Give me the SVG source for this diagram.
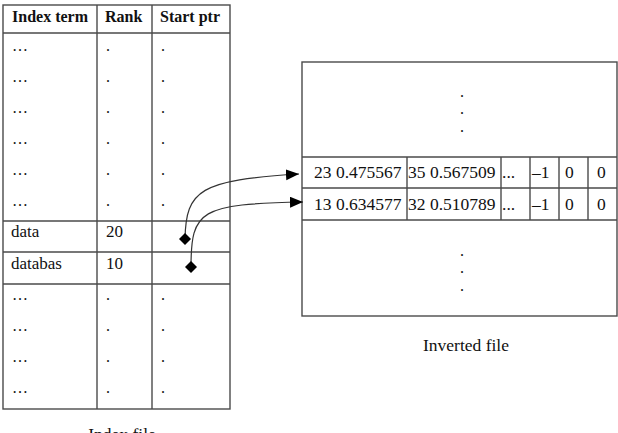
<svg xmlns="http://www.w3.org/2000/svg" width="618" height="433" viewBox="0 0 618 433">
<defs>
<style>
.ln{stroke:#4a4a4a;stroke-width:1.4;fill:none}
.t{font-family:"Liberation Serif","Times New Roman",serif;fill:#111}
.h{font-size:16px;font-weight:bold}
.r{font-size:16px}
.d{font-size:17px}
.i{font-size:17.5px}
.cap{font-size:17.5px}
.con{stroke:#333;stroke-width:1.2;fill:none}
</style>
<marker id="ah" markerUnits="userSpaceOnUse" markerWidth="14" markerHeight="12" refX="13" refY="5.5" orient="auto" viewBox="0 0 14 12">
<path d="M0,0 L13,5.5 L0,11 Z" fill="#000"/>
</marker>
</defs>
<rect width="618" height="433" fill="#fff"/>
<g id="index-file">
<rect class="ln" x="3" y="5" width="227" height="404"/>
<line class="ln" x1="3" y1="33" x2="230" y2="33"/>
<line class="ln" x1="97" y1="5" x2="97" y2="409"/>
<line class="ln" x1="152" y1="5" x2="152" y2="409"/>
<line class="ln" x1="3" y1="221" x2="230" y2="221"/>
<line class="ln" x1="3" y1="252" x2="230" y2="252"/>
<line class="ln" x1="3" y1="284" x2="230" y2="284"/>
<text class="t h" x="12" y="22">Index term</text>
<text class="t h" x="105" y="22">Rank</text>
<text class="t h" x="160" y="22">Start ptr</text>
<g class="t r">
<text x="12" y="51">…</text><text x="106" y="51">.</text><text x="161" y="51">.</text>
<text x="12" y="82">…</text><text x="106" y="82">.</text><text x="161" y="82">.</text>
<text x="12" y="113">…</text><text x="106" y="113">.</text><text x="161" y="113">.</text>
<text x="12" y="144">…</text><text x="106" y="144">.</text><text x="161" y="144">.</text>
<text x="12" y="175">…</text><text x="106" y="175">.</text><text x="161" y="175">.</text>
<text x="12" y="206">…</text><text x="106" y="206">.</text><text x="161" y="206">.</text>
<text x="12" y="300">…</text><text x="106" y="300">.</text><text x="161" y="300">.</text>
<text x="12" y="331">…</text><text x="106" y="331">.</text><text x="161" y="331">.</text>
<text x="12" y="362">…</text><text x="106" y="362">.</text><text x="161" y="362">.</text>
<text x="12" y="393">…</text><text x="106" y="393">.</text><text x="161" y="393">.</text>
</g>
<text class="t d" x="11" y="237">data</text>
<text class="t d" x="106" y="237">20</text>
<text class="t d" x="11" y="269">databas</text>
<text class="t d" x="106" y="269">10</text>
<text class="t cap" x="122" y="440" text-anchor="middle">Index file</text>
</g>
<g id="inverted-file">
<rect class="ln" x="302" y="62" width="315" height="254"/>
<line class="ln" x1="302" y1="157" x2="617" y2="157"/>
<line class="ln" x1="302" y1="188" x2="617" y2="188" stroke-width="2.6"/>
<line class="ln" x1="302" y1="220" x2="617" y2="220"/>
<g class="ln">
<line x1="407" y1="157" x2="407" y2="220"/>
<line x1="501" y1="157" x2="501" y2="220"/>
<line x1="530" y1="157" x2="530" y2="220"/>
<line x1="559" y1="157" x2="559" y2="220"/>
<line x1="588" y1="157" x2="588" y2="220"/>
</g>
<g class="t r" text-anchor="middle">
<text x="462" y="97">.</text><text x="462" y="114">.</text><text x="462" y="132">.</text>
<text x="462" y="256">.</text><text x="462" y="273">.</text><text x="462" y="291">.</text>
</g>
<g class="t i">
<text x="314" y="178">23 0.475567</text>
<text x="408" y="178">35 0.567509</text>
<text x="502" y="178">...</text>
<text x="532" y="178">–1</text>
<text x="565" y="178">0</text>
<text x="597" y="178">0</text>
<text x="314" y="210">13 0.634577</text>
<text x="408" y="210">32 0.510789</text>
<text x="502" y="210">...</text>
<text x="532" y="210">–1</text>
<text x="565" y="210">0</text>
<text x="597" y="210">0</text>
</g>
<text class="t cap" x="466" y="351" text-anchor="middle">Inverted file</text>
</g>
<g id="connectors">
<path class="con" d="M185,239 C186,190 200,180 299,174" marker-end="url(#ah)"/>
<path class="con" d="M191,267 C191,210 200,204 303,202" marker-end="url(#ah)"/>
<path d="M185,233 L191,239 L185,245 L179,239 Z" fill="#000"/>
<path d="M191,261 L197,267 L191,273 L185,267 Z" fill="#000"/>
</g>
</svg>
